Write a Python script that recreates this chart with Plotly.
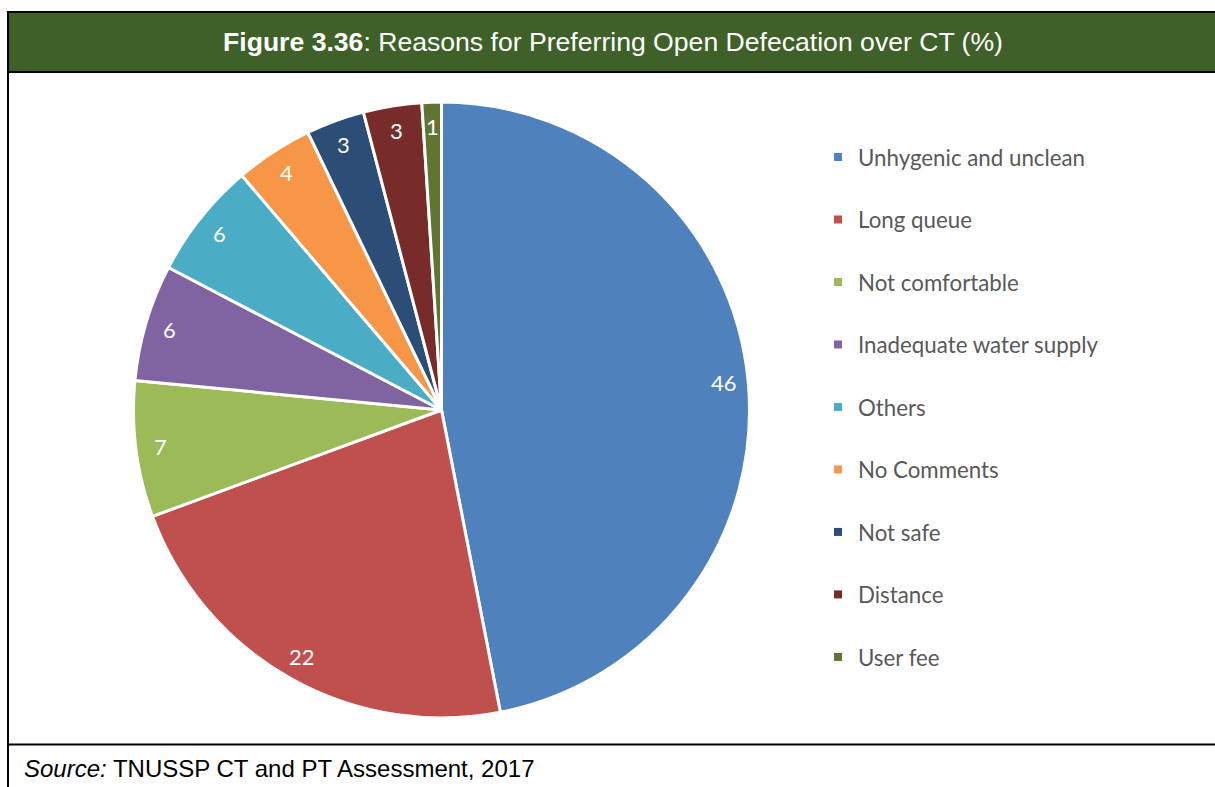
import math
import plotly.graph_objects as go

# Survey shares (%) of reasons for preferring open defecation over community toilets
reasons = [
    "Unhygenic and unclean",
    "Long queue",
    "Not comfortable",
    "Inadequate water supply",
    "Others",
    "No Comments",
    "Not safe",
    "Distance",
    "User fee",
]
shares = [46, 22, 7, 6, 6, 4, 3, 3, 1]
colors = ["#4F81BD", "#C0504D", "#9BBB59", "#8064A2", "#4BACC6",
          "#F79646", "#2C4D75", "#772C2A", "#5F7530"]

W, H = 1215, 787
title_html = "<b>Figure 3.36</b>: Reasons for Preferring Open Defecation over CT (%)"
source_html = "<i>Source:</i> TNUSSP CT and PT Assessment, 2017"

# pie geometry in pixels (centre and radius)
cx, cy, R = 441.5, 410, 308
dom_x = [(cx - R) / W, (cx + R) / W]
dom_y = [1 - (cy + R) / H, 1 - (cy - R) / H]

fig = go.Figure()

# slices, clockwise from 12 o'clock
fig.add_trace(go.Pie(
    labels=reasons, values=shares, sort=False, direction="clockwise", rotation=0,
    marker=dict(colors=colors, line=dict(color="white", width=3)),
    textinfo="none", hoverinfo="label+value", showlegend=False,
    domain=dict(x=dom_x, y=dom_y),
))

# legend entries (small squares)
for name, col in zip(reasons, colors):
    fig.add_trace(go.Scatter(
        x=[None], y=[None], mode="markers", name=name, legendgroup=name,
        marker=dict(symbol="square", size=8, color=col),
    ))

# value labels near the rim, at each slice's mid-angle
annotations = []
total = sum(shares)
cum = 0.0
label_r = 0.92 * R
for v in shares:
    mid = 2 * math.pi * (cum + v / 2) / total
    cum += v
    px = cx + label_r * math.sin(mid)
    py = cy - label_r * math.cos(mid)
    annotations.append(dict(
        text=str(v), xref="paper", yref="paper", x=px / W, y=1 - py / H,
        xanchor="center", yanchor="middle", showarrow=False,
        font=dict(family="Lato", size=22, color="white"),
    ))

shapes = [
    # title band
    dict(type="rect", xref="paper", yref="paper", x0=8 / W, x1=1.01,
         y0=1 - 72 / H, y1=1 - 12 / H, fillcolor="#3F6129",
         line=dict(color="black", width=2)),
    # left frame edge
    dict(type="line", xref="paper", yref="paper", x0=8 / W, x1=8 / W,
         y0=-0.01, y1=1 - 12 / H, line=dict(color="black", width=2)),
    # bottom frame edge of chart area
    dict(type="line", xref="paper", yref="paper", x0=8 / W, x1=1.01,
         y0=1 - 744.5 / H, y1=1 - 744.5 / H, line=dict(color="black", width=2)),
]

annotations += [
    dict(text=title_html, xref="paper", yref="paper", x=612.5 / W, y=1 - 42 / H,
         xanchor="center", yanchor="middle", showarrow=False,
         font=dict(family="Liberation Sans", size=26.6, color="white")),
    dict(text=source_html, xref="paper", yref="paper", x=22 / W, y=1 - 768 / H,
         xanchor="left", yanchor="middle", showarrow=False,
         font=dict(family="Liberation Sans", size=24, color="black")),
]

fig.update_layout(
    width=W, height=H, margin=dict(l=0, r=0, t=0, b=0),
    paper_bgcolor="white", plot_bgcolor="white",
    xaxis=dict(visible=False), yaxis=dict(visible=False),
    shapes=shapes, annotations=annotations,
    showlegend=True,
    legend=dict(x=818 / W, y=1 - 136 / H, xanchor="left", yanchor="top",
                tracegroupgap=30.5, bgcolor="rgba(0,0,0,0)",
                font=dict(family="Lato", size=22.3, color="#595959")),
)

fig.write_html("out.html")
